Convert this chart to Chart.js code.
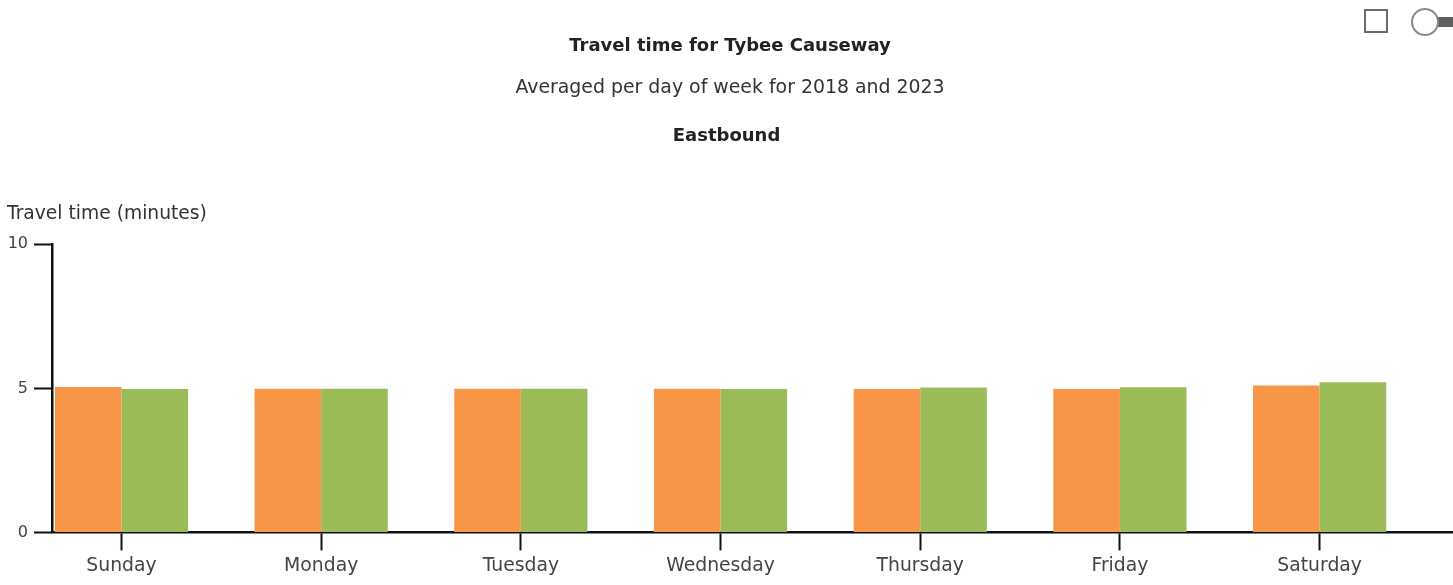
<!DOCTYPE html>
<html>
<head>
<meta charset="utf-8">
<script src="https://cdn.jsdelivr.net/npm/chart.js@4.4.1/dist/chart.umd.min.js"></script>
<style>
  html, body { margin: 0; padding: 0; background: #fff; }
  #wrap { position: relative; width: 1453px; height: 585px; overflow: hidden; }
  #chart { position: absolute; left: 0; top: 0; }
  .btn-square { position: absolute; left: 1364px; top: 9px; width: 20px; height: 20px; border: 2px solid #6b6b6b; }
  .toggle-knob { position: absolute; left: 1411px; top: 8px; width: 24px; height: 24px; border: 2px solid #8a8a8a; border-radius: 50%; background: #fff; z-index: 2; }
  .toggle-track { position: absolute; left: 1430px; top: 17px; width: 30px; height: 10px; background: #5f5f5f; z-index: 1; }
</style>
</head>
<body>
<div id="wrap">
  <canvas id="chart" width="1453" height="585"></canvas>
  <div class="btn-square"></div>
  <div class="toggle-track"></div>
  <div class="toggle-knob"></div>
</div>
<script>
const days = ['Sunday', 'Monday', 'Tuesday', 'Wednesday', 'Thursday', 'Friday', 'Saturday'];
const travel2018 = [5.05, 4.99, 4.99, 4.99, 4.98, 4.98, 5.10];
const travel2023 = [4.98, 4.99, 4.99, 4.98, 5.03, 5.04, 5.21];
const yTicks = [0, 5, 10];

const FONT = "'DejaVu Sans', Verdana, sans-serif";

// Day index -> point, so each day group sits on an integer position of the x axis
const toPoints = values => values.map((v, i) => ({ x: i, y: v }));

// Extra headings: direction label and the horizontal y-axis caption
const extraText = {
  id: 'extraText',
  afterDraw(chart) {
    const { ctx, chartArea } = chart;
    ctx.save();
    ctx.textBaseline = 'middle';
    ctx.fillStyle = '#222';
    ctx.font = `bold 18px ${FONT}`;
    ctx.textAlign = 'center';
    ctx.fillText('Eastbound', chart.width / 2, chartArea.top - 108);
    ctx.font = `18.7px ${FONT}`;
    ctx.fillStyle = '#333';
    ctx.textAlign = 'left';
    ctx.fillText('Travel time (minutes)', 7, chartArea.top - 30);
    ctx.restore();
  }
};

new Chart(document.getElementById('chart'), {
  type: 'bar',
  data: {
    datasets: [
      { label: '2018', data: toPoints(travel2018), backgroundColor: '#F79646', borderWidth: 0 },
      { label: '2023', data: toPoints(travel2023), backgroundColor: '#9BBB59', borderWidth: 0 }
    ]
  },
  options: {
    responsive: false,
    animation: false,
    events: [],
    layout: { padding: { left: 7, right: 0, top: 0, bottom: 4 } },
    datasets: { bar: { categoryPercentage: 0.667, barPercentage: 1.0 } },
    plugins: {
      legend: { display: false },
      tooltip: { enabled: false },
      title: {
        display: true,
        text: 'Travel time for Tybee Causeway',
        color: '#222',
        font: { family: FONT, size: 18, weight: 'bold', lineHeight: 1.2 },
        padding: { top: 36, bottom: 0 }
      },
      subtitle: {
        display: true,
        text: 'Averaged per day of week for 2018 and 2023',
        color: '#333',
        font: { family: FONT, size: 18.9, lineHeight: 1.2 },
        padding: { top: 19, bottom: 145 }
      }
    },
    scales: {
      x: {
        type: 'linear',
        min: -0.348,
        max: 6.668,
        offset: false,
        afterBuildTicks(scale) { scale.ticks = days.map((d, i) => ({ value: i })); },
        grid: { display: true, offset: false, drawOnChartArea: false, drawTicks: true, tickLength: 18, tickColor: '#111', tickWidth: 2 },
        border: { display: true, color: '#111', width: 2.5 },
        ticks: {
          color: '#444',
          font: { family: FONT, size: 18.8 },
          padding: 4,
          maxRotation: 0,
          autoSkip: false,
          callback: v => days[v]
        }
      },
      y: {
        min: 0,
        max: 10,
        afterBuildTicks(scale) { scale.ticks = yTicks.map(v => ({ value: v })); },
        afterFit(scale) { scale.width = 45; },
        grid: { display: true, drawOnChartArea: false, drawTicks: true, tickLength: 18, tickColor: '#111', tickWidth: 2 },
        border: { display: true, color: '#111', width: 2.5 },
        ticks: { color: '#444', font: { family: FONT, size: 16 }, padding: 6 }
      }
    }
  },
  plugins: [extraText]
});
</script>
</body>
</html>
